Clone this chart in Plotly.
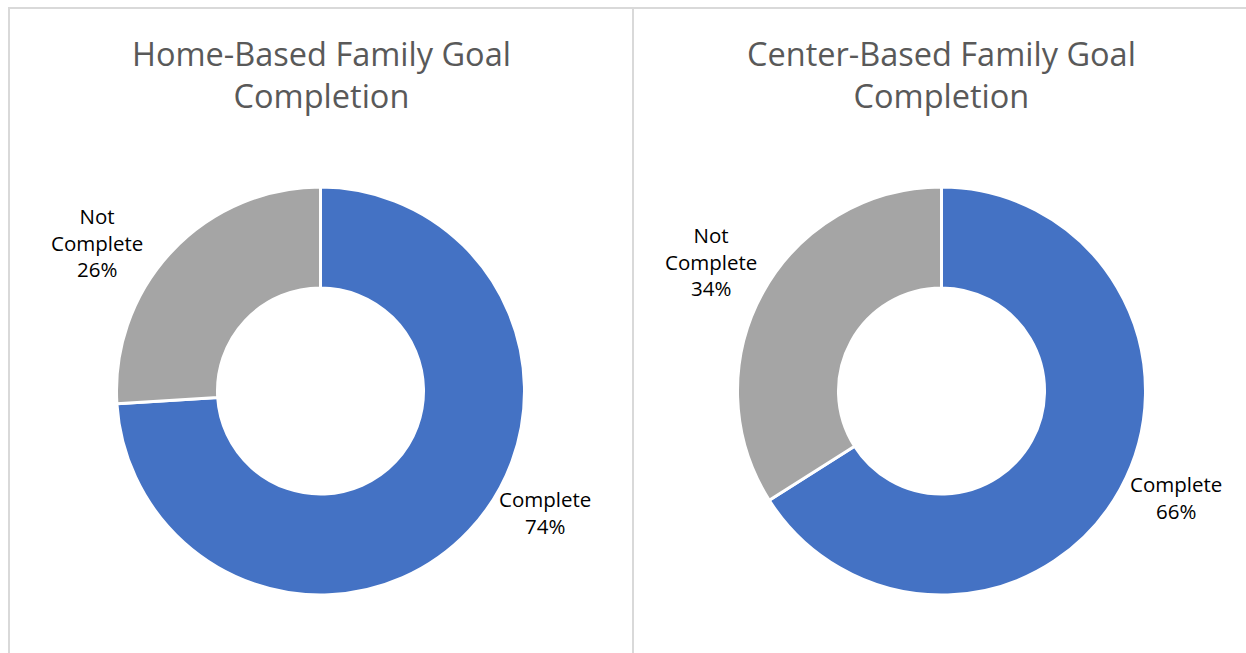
import plotly.graph_objects as go

W, H = 1246, 653

categories = ["Complete", "Not Complete"]
home_values = [74, 26]
center_values = [66, 34]
titles = ["Home-Based Family Goal<br>Completion", "Center-Based Family Goal<br>Completion"]
label_texts_home = ["Complete<br>74%", "Not<br>Complete<br>26%"]
label_texts_center = ["Complete<br>66%", "Not<br>Complete<br>34%"]

colors = ["#4472C4", "#A5A5A5"]

R = 204
cy = 391  # px from top

def dom(cx):
    return dict(x=[(cx - R) / W, (cx + R) / W],
                y=[(H - cy - R) / H, (H - cy + R) / H])

fig = go.Figure()
for vals, cx in [(home_values, 320.5), (center_values, 941.5)]:
    fig.add_trace(go.Pie(
        labels=categories, values=vals, hole=0.505, sort=False,
        direction="clockwise", rotation=0,
        marker=dict(colors=colors, line=dict(color="white", width=3)),
        textinfo="none", hoverinfo="label+percent",
        domain=dom(cx), showlegend=False,
    ))

ann = []
for t, cx in zip(titles, [321, 941]):
    ann.append(dict(text=t, x=cx / W, y=1 - 74 / H, xref="paper", yref="paper",
                    showarrow=False, xanchor="center", yanchor="middle",
                    font=dict(family="Open Sans", size=32.5, color="#595959")))

label_pos = [
    (label_texts_home[0], 545, 512),
    (label_texts_home[1], 97, 243),
    (label_texts_center[0], 1176, 497),
    (label_texts_center[1], 711, 261),
]
for t, x, y in label_pos:
    ann.append(dict(text=t, x=x / W, y=1 - y / H, xref="paper", yref="paper",
                    showarrow=False, xanchor="center", yanchor="middle",
                    font=dict(family="Open Sans", size=20.5, color="#000000")))

line = dict(color="#D9D9D9", width=2)
shapes = [
    dict(type="line", xref="paper", yref="paper", x0=8 / W, x1=1, y0=1 - 8 / H, y1=1 - 8 / H, line=line),
    dict(type="line", xref="paper", yref="paper", x0=9 / W, x1=9 / W, y0=0, y1=1 - 8 / H, line=line),
    dict(type="line", xref="paper", yref="paper", x0=633 / W, x1=633 / W, y0=0, y1=1 - 8 / H, line=line),
]

fig.update_layout(width=W, height=H, margin=dict(l=0, r=0, t=0, b=0),
                  paper_bgcolor="white", plot_bgcolor="white",
                  annotations=ann, shapes=shapes)
fig.write_html("out.html", config={"displayModeBar": False},
               post_script="document.body.style.margin='0';document.body.style.overflow='hidden';")
